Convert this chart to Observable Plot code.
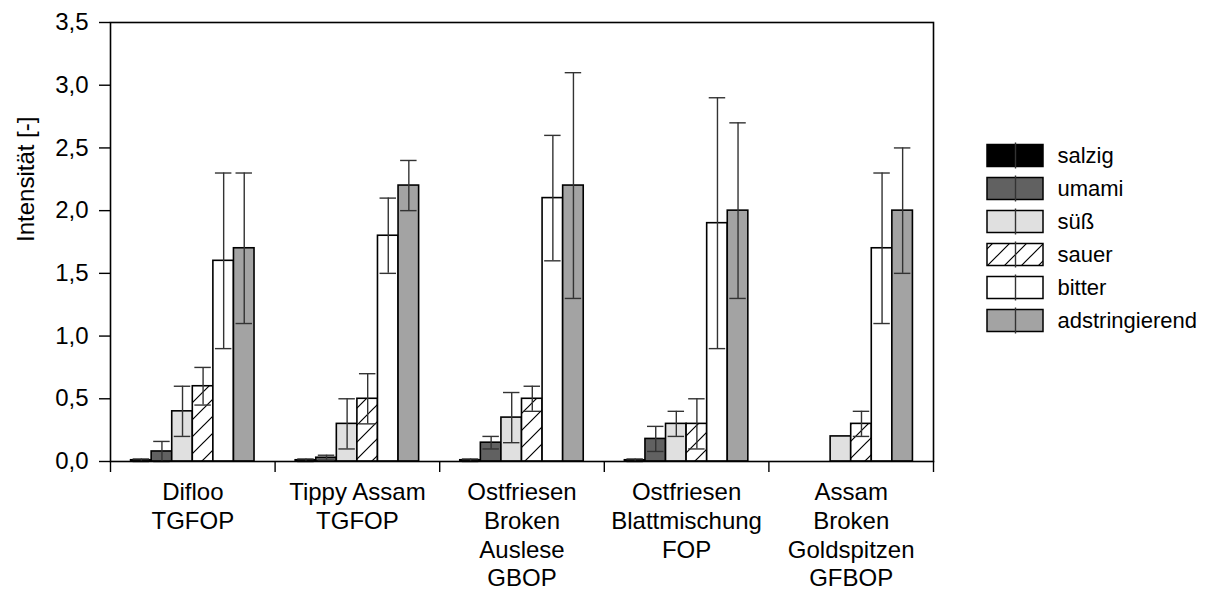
<!DOCTYPE html>
<html>
<head>
<meta charset="utf-8">
<script src="https://cdn.jsdelivr.net/npm/d3@7"></script>
<script src="https://cdn.jsdelivr.net/npm/@observablehq/plot@0.6"></script>
<style>
  html, body { margin: 0; padding: 0; background: #fff; }
  #wrap { position: relative; width: 1206px; height: 595px; font-family: "Liberation Sans", Arial, sans-serif; }
  #legend { position: absolute; left: 980px; top: 137px; }
</style>
</head>
<body>
<div id="wrap"><div id="chart"></div><div id="legend"></div></div>
<script>
// Tea samples (x categories) and taste attributes (series)
const groups = [
  "Difloo\nTGFOP",
  "Tippy Assam\nTGFOP",
  "Ostfriesen\nBroken\nAuslese\nGBOP",
  "Ostfriesen\nBlattmischung\nFOP",
  "Assam\nBroken\nGoldspitzen\nGFBOP"
];
const series = ["salzig", "umami", "süß", "sauer", "bitter", "adstringierend"];

// Mean intensity per sample and standard deviation
const salzig    = [0.01, 0.01, 0.01, 0.01, 0];
const salzigSd  = [0.01, 0.01, 0.01, 0.01, 0];
const umami     = [0.08, 0.03, 0.15, 0.18, 0];
const umamiSd   = [0.08, 0.02, 0.05, 0.10, 0];
const suess     = [0.40, 0.30, 0.35, 0.30, 0.20];
const suessSd   = [0.20, 0.20, 0.20, 0.10, 0];
const sauer     = [0.60, 0.50, 0.50, 0.30, 0.30];
const sauerSd   = [0.15, 0.20, 0.10, 0.20, 0.10];
const bitter    = [1.60, 1.80, 2.10, 1.90, 1.70];
const bitterSd  = [0.70, 0.30, 0.50, 1.00, 0.60];
const adstr     = [1.70, 2.20, 2.20, 2.00, 2.00];
const adstrSd   = [0.60, 0.20, 0.90, 0.70, 0.50];

const yTicks = [0, 0.5, 1, 1.5, 2, 2.5, 3, 3.5];
const fills = ["#000000", "#616161", "#e0e0e0", "url(#hatch)", "#ffffff", "#a3a3a3"];
const legendFills = ["#000000", "#616161", "#e0e0e0", "url(#hatch-legend)", "#ffffff", "#a3a3a3"];

const means = [salzig, umami, suess, sauer, bitter, adstr];
const sds = [salzigSd, umamiSd, suessSd, sauerSd, bitterSd, adstrSd];

// Each sample occupies one unit on x, split into 8 slots: an empty slot on each side, six bars in between
const slots = series.length + 2;
const rows = [];
groups.forEach((g, gi) => {
  series.forEach((s, si) => {
    rows.push({
      group: g, series: s, value: means[si][gi], sd: sds[si][gi],
      x1: gi + (si + 1) / slots, x2: gi + (si + 2) / slots, xc: gi + (si + 1.5) / slots
    });
  });
});
const capHalf = 0.4 / slots;
const errRows = rows.filter(d => d.value > 0 && d.sd > 0);

function hatch(id) {
  return () => {
    const defs = d3.create("svg:defs");
    const p = defs.append("pattern").attr("id", id)
      .attr("patternUnits", "userSpaceOnUse").attr("width", 17).attr("height", 17);
    p.append("rect").attr("width", 17).attr("height", 17).attr("fill", "white");
    p.append("path").attr("d", "M0,17L17,0M-4,4L4,-4M13,21L21,13")
      .attr("stroke", "black").attr("stroke-width", 1.2);
    return defs.node();
  };
}

const fmt = d => d.toFixed(1).replace(".", ",");
const font = "'Liberation Sans', Arial, sans-serif";

const chart = Plot.plot({
  width: 1206,
  height: 595,
  marginLeft: 110,
  marginRight: 273,
  marginTop: 22,
  marginBottom: 134,
  style: { fontFamily: font, fontSize: "24px", background: "white", color: "black" },
  x: { domain: [0, groups.length], axis: null },
  y: { domain: [0, 3.5], axis: null },
  color: { domain: series, range: fills },
  marks: [
    hatch("hatch"),
    Plot.rect(rows.filter(d => d.value > 0), {
      x1: "x1", x2: "x2", y1: 0, y2: "value", fill: "series",
      stroke: "black", strokeWidth: 1.6
    }),
    Plot.ruleX(errRows, {
      x: "xc", y1: d => d.value - d.sd, y2: d => d.value + d.sd,
      stroke: "#333", strokeWidth: 1.4
    }),
    Plot.ruleY(errRows, {
      y: d => d.value + d.sd, x1: d => d.xc - capHalf, x2: d => d.xc + capHalf,
      stroke: "#333", strokeWidth: 1.4
    }),
    Plot.ruleY(errRows, {
      y: d => d.value - d.sd, x1: d => d.xc - capHalf, x2: d => d.xc + capHalf,
      stroke: "#333", strokeWidth: 1.4
    }),
    Plot.frame({ stroke: "black", strokeWidth: 1.6 }),
    Plot.axisY({
      ticks: yTicks, tickFormat: fmt, tickSize: 11, tickPadding: 11,
      strokeWidth: 1.4, fontSize: 24, label: null
    }),
    Plot.axisX({
      ticks: d3.range(groups.length + 1), tickSize: 11, tickFormat: () => "",
      strokeWidth: 1.4, label: null
    }),
    Plot.text(groups, {
      x: (d, i) => i + 0.5, text: d => d, frameAnchor: "bottom", lineAnchor: "top",
      dy: 18, fontSize: 24, lineHeight: 1.2, fill: "black"
    }),
    Plot.text(["Intensität [-]"], {
      frameAnchor: "left", rotate: -90, dx: -84, fontSize: 24, fill: "black"
    })
  ]
});
document.getElementById("chart").append(chart);

// Legend: swatch with error-bar glyph and label for each series
const legend = Plot.plot({
  width: 226,
  height: 202,
  margin: 0,
  style: { fontFamily: font, fontSize: "22px", background: "transparent", color: "black" },
  x: { domain: [0, 1], range: [7, 63], axis: null },
  y: { domain: series, range: [0, 202], padding: 0, axis: null },
  color: { domain: series, range: legendFills },
  marks: [
    hatch("hatch-legend"),
    Plot.barX(series, {
      x1: 0, x2: 1, y: d => d, fill: d => d, insetTop: 5.5, insetBottom: 5.5,
      stroke: "black", strokeWidth: 1.5
    }),
    Plot.tickX(series, {
      x: 0.5, y: d => d, insetTop: 3.5, insetBottom: 3.5, stroke: "#333", strokeWidth: 1.4
    }),
    Plot.text(series, {
      x: 1, y: d => d, text: d => d, dx: 14, textAnchor: "start", fontSize: 22, fill: "black"
    })
  ]
});
document.getElementById("legend").append(legend);
</script>
</body>
</html>
